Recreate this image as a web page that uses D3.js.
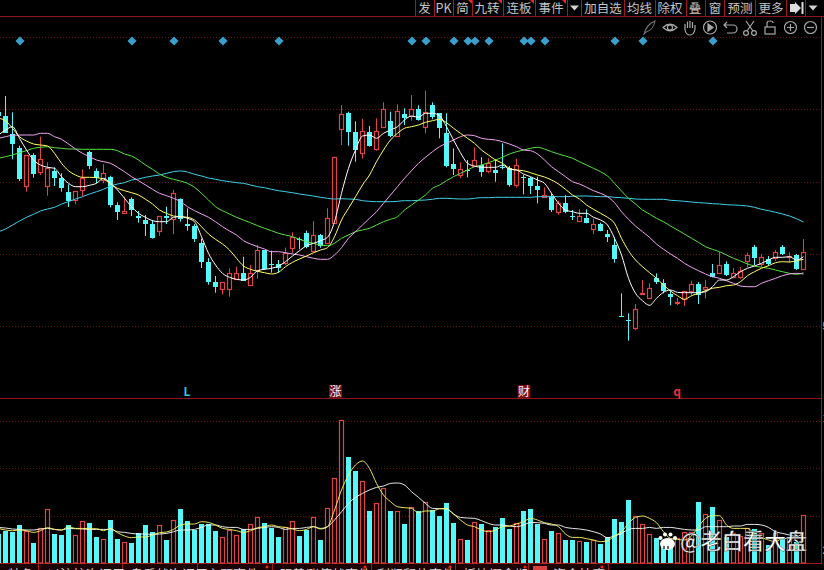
<!DOCTYPE html>
<html><head><meta charset="utf-8">
<script src="https://d3js.org/d3.v7.min.js"></script>
<style>html,body{margin:0;padding:0;background:#000;overflow:hidden}svg{display:block}</style>
</head><body><svg id="c" width="824" height="570"></svg>
<script>
// Candles run from index -1 to 114
const opens=[288,284,265.7,251.7,214.3,245.3,228.3,214.3,229,222.3,208,200,209.7,248,228.7,220,222.7,195.3,187,201,184.3,180,176,169.3,184.3,181.3,201,176,174.3,157.3,138,118,111.3,110.7,120.7,126.7,115.3,130,149.7,136,136,136.7,151.7,161.3,167.3,149.3,165,156.7,177.3,270.7,287.3,268,247.3,268,250.7,272.7,279,264,286,284,291,273.3,294.7,286.7,266.7,235.7,225.3,230,234,235.3,229.3,230,232.7,231.7,215,223.3,222,213.7,203.3,204,188,196.7,184,179,182,170.7,176,165.7,154.7,84,80,72,106,102.3,122,116.7,106,97.3,101,109.3,116,110.7,126.7,127.3,135.7,122.7,123.3,139.3,153.3,136,140.7,142,152.7,142.7,144.7,131.3];
const closes=[284,267.3,256,220.7,245,226,240.7,232.3,222.3,212,199,209,222.3,234,221.7,227.3,195,188,189,190,182.3,176,162.3,184,182.3,206.7,181,174,161,138,118,112.7,118,126.7,126.7,119.3,126.7,149.7,130.7,134.7,131.7,147.3,163.3,160,153.3,164.7,154,181.7,242.7,286.3,268.3,250,269.3,254.3,269.3,290.7,264,289.3,282,290.7,280,288.3,282.7,272.3,234,231,230.7,229.3,239.7,228,236.7,226.7,232,215,235.3,222.7,214,210.3,204.7,190,197.3,188,183.3,183.7,177.3,175.7,169.3,163,141.3,83.3,79.3,90.7,107.3,111.7,118,108.7,103.3,98,108.7,116,104.7,112.7,123.3,135.3,125.3,127.3,129,145,142,142.7,136,148.3,146,144,130.7,148.3];
const highs=[295,304,287.7,254.3,245,246.7,263.3,237.7,232.7,226.7,215.7,209,230.7,249.3,231.7,235.7,224.3,197.7,203.3,202.7,189,185,180,184,193.3,210,201.7,191.7,176,161.3,142,124,118,131.7,133.3,143.3,135,155,149.7,149.3,140,152.3,167.7,162.7,169.3,179,166,191.7,242.7,295,288.3,278.7,281.3,274,281.7,297.7,288.3,295.7,291.7,305,294.7,309.3,297.7,286.7,286.7,251.7,237.7,240,252.7,242.7,241.7,240.7,256.7,234,241.3,225,223.3,223.3,212.7,206.7,199.3,205,190,190.7,190.7,181.3,177.3,170,162.7,106.7,86.7,96,120,116.7,126.7,120.7,110,102,108.7,119.3,118,120,136,148,138.7,132,132.7,147.3,155,145.7,144,150,155,147.7,146,161];
const lows=[265,267,240.7,219,208.3,222.3,225,204.3,214,208.3,193,196,203.3,231,216.7,216.7,192.7,180,186,184,177.3,164,161.3,164,176,166,178.3,169.3,158,132,115.3,107.3,105.3,103.3,120,119.3,115.3,121.3,130,127.3,127,135,146.7,150.7,151.7,147.7,152.3,156,177.3,255,254.3,238.3,241.3,253.3,249.3,272.7,262.7,263.3,275,279.3,279.3,266.7,280.7,261.7,232.7,225,221.7,222.7,233.3,223.3,226.7,218.3,230.7,213.3,212.3,205.7,206,196.7,202.7,188,185.3,186.7,180,178.3,176.7,166,168.7,158,137.3,83.3,59.3,70,105,101.7,116,106.7,94.7,95,94,105,96,101.7,122.7,126,124,121.7,121.3,132.7,135,133.3,134,139.3,145,137.3,130,130];

const ma5=[265,270,273.3,261.7,250,240,235,232.7,231.7,223.3,216.7,213.3,213.3,214.7,216.7,221.7,216.7,210,201.7,193.3,186.7,182.7,179.3,178.3,178.3,182.7,183.3,181.7,178.3,163.3,146.7,135,126.7,122.7,120.7,120,122.7,129.3,130.7,131.7,134,138.3,144,149.3,154.3,156.7,159.3,162.7,178.3,206.7,231.7,250,264,265,261.7,266.7,270,273.3,280,284,282.7,286.7,286.7,284.3,273.3,260,247.3,236.7,234,232.7,232.7,232.7,235,230.7,230,226,223.3,220,216.7,206.7,196.7,190,188.3,186.7,186.7,182.7,180,175,161.7,145,121.7,106.7,99.3,94.7,101.7,107.7,110,107.7,107.3,107.3,107.3,108.3,113.3,120,120,123.3,128.3,131.7,134,136.7,140,142.7,142.7,143.3,140,143.3];
const ma10=[281.7,279.3,271.7,263.3,259,256,255,254,246.7,236.7,229.3,225,222.7,222.7,222.3,221,216,211.7,209.3,207.3,205,200.7,196,190,186.7,184,183.3,182.7,180,173.3,166,160.7,156,150,141.7,134,130.7,128.7,127.3,126,127.7,133.3,137.7,141,144,147.3,150,152.3,163.3,180,191.7,203.3,215,225,238.3,250,260,266.7,271.7,273.3,275,277.7,279.3,280.7,277.3,271.7,266.7,261.7,256.7,250,245,240,236.7,231.7,230,229.3,227.3,225,223,220,216,210.7,205,201,195,190.7,186.7,182.7,176.7,161.7,149.3,140,133.3,127.3,121.7,115,109,104.3,100.7,104.3,106.7,109.3,111.7,112.7,114.3,115,118.3,124.3,128.3,131.7,134.3,137.3,138.3,138,139.3,140.7];
const ma20=[261.7,263.3,264.7,265,265,265,266.7,266.7,263.3,260.7,256,251,246.7,243.3,240,238.3,236.7,232.7,228.3,223.3,219.3,215,210.7,206.7,204.3,201.7,198.3,193.3,189.3,186,182.7,178.3,173.3,169,165,159.3,156,153.3,151,148.3,148.3,147.3,146,145,143.3,141.7,140.7,140.7,145,152.3,161.7,168.3,175,181.7,188.3,196.7,205,213.3,221.7,229.3,236.7,242.7,248.3,253.3,256.7,260,263.3,265,264.3,261.7,260.7,260,258.3,256,253.3,250,249.3,246,240,233.3,228.3,223.3,218.3,216,212.7,209.3,206.7,203.3,197.3,188.3,180.7,174,168.3,162.7,156,150.7,146,141.7,136.7,132.7,129.3,126,123.3,121.7,119.3,116.7,114,113.3,113.3,116.7,119.3,121.7,124.3,126,126.7,126];
const ma30=[241.7,243.3,245,247.3,249.3,251.7,252.7,253.3,252.3,251.7,251,251,250.7,250.7,250.7,250.7,250.7,249.3,246,244,240,235,230.7,226,222.7,220.7,219,216.7,212.7,206.7,200,193.3,189.3,186,182.7,180,177.3,174.3,171.7,169.3,166.7,165,163.3,160.7,158.3,156.7,155,154.3,156.7,161.7,165,168.3,170,171.7,175,178.3,180.7,183.3,190,195,200,205,211.7,215,219.3,223.3,226.7,230,233.3,235,237.3,240,242.7,246,248.3,250,251.7,252.7,251,248.3,246,244,241.7,238.3,235,231.7,228.3,224,216.7,209,201.7,196,190,186,181.7,178.3,174,170,166,161.7,157.7,153.3,150.7,148.3,145,141.7,139,136,134,132.7,131.7,130,128.3,126.7,125.7,127.3];
const ma60=[168.3,171,175,179,182.7,185.7,189,191,192.7,196,198.3,201,203.3,206,208.3,210.7,214,216,217.3,220,221,222.7,224,225,226.7,228.3,229,228,225.7,224,222,220.7,219.3,218.3,217.3,216.7,215,213.3,212.3,210.7,209.3,208.3,207.3,206,205,204,202.7,201.7,201,201.3,201,200.7,199.3,198.7,198.3,198.3,198.3,198.7,199.3,199.3,199.7,200,200.7,201.7,201.7,201.3,201,201,201.7,202.3,202.3,202.7,202.7,202.7,202.7,202.7,202.7,203.3,203.3,203.3,203.3,203.3,203.7,204,204,203.7,203.3,203.3,202.7,202.3,201.7,201,200.7,200.7,200.7,200.7,199.7,199.3,198.7,198,197.3,197,196.3,196,195.3,195,194.7,194,192.7,190.7,189.3,187.7,186,184,181.3,178];

const volumes=[28.7,31.7,31,37.7,31.7,20,34.3,53.3,28.7,27.7,37.3,27.7,41.3,39.3,25.7,23.3,42.7,23.7,20.3,20,29.3,37.7,30.7,37.3,22.7,42.3,53.3,41.3,32.7,38.7,38.7,31.7,25.7,32.7,27.7,33.7,38.3,45.3,39.3,34.3,25.7,35.3,41.3,26.7,32.7,45.3,22.7,54.3,84.3,142.3,105.7,91.7,81.7,51.7,59.3,74.3,51.7,51.7,38.7,55.3,51.3,60.3,52.7,46.7,59.3,39.7,23.3,22.7,40.3,38.7,32.7,36,44.7,33.7,39.3,51.3,53.7,38.7,23.3,31.7,29.3,22.7,22.7,21.3,20.7,22.7,18.7,25.3,43.7,40.7,62.7,46.7,38.3,28.3,24.3,17.7,19.3,24.3,31,31,60.7,48.7,55.7,42.7,26,30,26.7,34.3,33.3,30,17.7,29.3,26,24.3,21,47.3];
const volMa10=[35.3,34.7,33.7,33.3,32.7,32.7,33.7,34.3,33.3,32.7,34.3,34,33.7,33.3,33.3,33.3,33.3,31,30.3,29.3,28.7,28.7,28.3,28.7,29.3,31,32.7,32.7,33.3,35.3,37.7,37.7,36,35.3,35.3,33.3,33.3,34.3,35.3,36,35.3,33.3,34.3,34.3,35.3,36,34.3,36,42.7,51,59.3,65.3,69.3,72.7,75.3,76.7,79.3,79.7,77.7,71,65.3,59.3,54.3,54,53.7,48.7,45.3,44.7,44.3,42,39.3,37.7,37.7,36.7,36,37.7,40.3,40,39.3,37.7,37.7,35.3,34.3,33.7,32.7,31,28.7,25,26.7,29.3,33.3,34.3,34.3,35.3,34.3,35.3,35.3,34.3,33.3,32.7,32.7,36,36,36,36,36.7,36.7,38.3,38.3,37.7,35.3,31,29.3,27.7,26,30];
const volMa5=[34.3,32.7,32,32.7,32,30.3,32,35,33.3,32.7,36,34.3,34.3,34,34,32,34.3,30,26.7,25,25.7,25.7,27.7,30,30.7,33.3,37.7,38.7,38.7,41,40.3,37.7,34.3,33.3,32,30.3,32,35,36,37.7,36,35.3,33.7,32,33.3,36,33.7,36,52.7,72.7,87.7,97.7,101.7,94.3,79.3,67.7,61,56,55,54.3,50,51.7,51.7,54,54.3,48.7,42.7,37.7,36,32.7,31,32.7,36,36.7,38.7,41,44.3,42.7,40,38.7,36,28.7,25.3,25.3,24,22.7,21,22,26.7,31,39.3,45.3,46.7,44.3,40,31,24.3,23.3,22.7,26.7,36,44.3,47,47,37.7,34.3,34.3,34.3,29.3,25.3,22.7,21,24.3,24.3,24.3,24.3];

const markerBars=[2,18,24,31,39,58,60,64,66,67,69,74,75,77,87,91,101];
const priceGrid=[363,290.7,218.5,146,74];
const volGrid=[47,95,142.2];
const sideTicks=[["5",326],["1",418],["2",550]];
const eventTags=[["L",187,"#2fc6d8",0],["涨",335.5,"#f4f4f4",1],["财",524,"#f4f4f4",1],["q",677,"#ea2f45",0]];
const toolLabels=[["发",424.5],["PK",443.5],["简",462.5],["九转",487],["连板",519],["事件",551],["加自选",603],["均线",639.5],["除权",670],["叠",695],["窗",715],["预测",740],["更多",771]];
const toolSeps=[415.5,434.5,453.5,472.5,503.5,535.5,567.5,581.5,624.5,655.5,686.5,705.5,724.5,755.5,786.5,805.5];
const toolFlags=[472,502,534,566];
const tabLabels=[["特色",8],["以沪校次调用",47],["盘后战次调用",130],["主题事件",207],["强势涨停战事件",280],["利润翻倍事件",377],["板块概念期",463],["资金抄底",553]];
const tabSeps=[38.5,122.5,197.5,272.5,371.5,455.5,528.5,608.5];
const tabDots=[267,365,450,525,602];

const CYAN="#55f8f8",RED="#de4345",GRID="#681414",LINE="#8e1518";
const CJK='"Noto Sans CJK SC","Noto Sans",sans-serif';
const svg=d3.select("#c");
svg.append("rect").attr("width",824).attr("height",570).attr("fill","#000");

const idx=d3.range(-1,115);
const x=d3.scaleLinear().domain([-1,114]).range([-1.5,803.5]);
const y=d3.scaleLinear().domain([0,400]).range([400,0]);
const yV=d3.scaleLinear().domain([0,142.2]).range([562.7,420.5]);
const snap=v=>Math.round(v)+.5;

// frame lines
const frame=svg.append("g").attr("stroke",LINE).attr("fill","none");
frame.append("line").attr("x1",0).attr("x2",824).attr("y1",16.5).attr("y2",16.5);
frame.append("line").attr("x1",0).attr("x2",821).attr("y1",398.5).attr("y2",398.5);
frame.append("line").attr("x1",0).attr("x2",821).attr("y1",563.5).attr("y2",563.5).attr("stroke","#a0181a");
frame.append("line").attr("x1",821.5).attr("x2",821.5).attr("y1",16).attr("y2",564).attr("stroke","#a0181a");

// grids
const grid=svg.append("g").attr("stroke",GRID).attr("stroke-dasharray","1 2");
grid.selectAll(".p").data(priceGrid).join("line").attr("x1",0).attr("x2",821)
  .attr("y1",d=>snap(y(d))).attr("y2",d=>snap(y(d)));
grid.selectAll(".v").data(volGrid).join("line").attr("x1",0).attr("x2",821)
  .attr("y1",d=>snap(yV(d))).attr("y2",d=>snap(yV(d)));

// candles
const up=i=>closes[i]>=opens[i];
svg.append("g").selectAll("g").data(idx).join("g")
  .each(function(k,i){
    const g=d3.select(this), cx=x(k), col=up(i)?RED:CYAN;
    g.append("line").attr("x1",cx).attr("x2",cx).attr("y1",y(highs[i])).attr("y2",y(lows[i])).attr("stroke",col);
    const t=Math.round(y(Math.max(opens[i],closes[i]))), b=Math.round(y(Math.min(opens[i],closes[i])));
    if(up(i)){
      g.append("rect").attr("x",cx-2).attr("width",4).attr("y",t+.5).attr("height",Math.max(b-t,1))
        .attr("fill","#000").attr("stroke",RED).attr("stroke-width",1.2);
    }else if(b-t<=1){
      g.append("line").attr("x1",cx-2.5).attr("x2",cx+2.5).attr("y1",t+.5).attr("y2",t+.5).attr("stroke",CYAN);
    }else{
      g.append("rect").attr("x",cx-2.5).attr("width",5).attr("y",t).attr("height",b-t).attr("fill",CYAN);
    }
  });

// price moving averages
const priceLine=d3.line().x((d,i)=>x(idx[i])).y(d=>y(d)).curve(d3.curveMonotoneX);
[[ma60,"#40d0e8"],[ma30,"#58e040"],[ma20,"#f0a4f2"],[ma10,"#ffff66"],[ma5,"#ffffff"]].forEach(([a,c])=>{
  svg.append("path").attr("d",priceLine(a)).attr("fill","none").attr("stroke",c).attr("stroke-width",1);
});

// volume
svg.append("g").selectAll("rect").data(idx).join("rect")
  .each(function(k,i){
    const r=d3.select(this), cx=x(k), top=Math.round(yV(volumes[i]));
    if(up(i)) r.attr("x",cx-2).attr("width",4).attr("y",top+.5).attr("height",563-top-.5).attr("fill","#000").attr("stroke",RED).attr("stroke-width",1.2);
    else r.attr("x",cx-2.5).attr("width",5).attr("y",top).attr("height",563-top).attr("fill",CYAN);
  });
const volLine=d3.line().x((d,i)=>x(idx[i])).y(d=>yV(d)).curve(d3.curveMonotoneX);
svg.append("path").attr("d",volLine(volMa10)).attr("fill","none").attr("stroke","#fff").attr("stroke-width",.9);
svg.append("path").attr("d",volLine(volMa5)).attr("fill","none").attr("stroke","#fdfd62").attr("stroke-width",.9);

// markers
const markY=41;
svg.append("g").selectAll("path").data(markerBars).join("path")
  .attr("d",d3.symbol(d3.symbolSquare,42)())
  .attr("transform",k=>`translate(${x(k)+.5},${markY}) rotate(45)`)
  .attr("fill","#3b9fcb");

// event tags
eventTags.forEach(([t,px,c,box])=>{
  if(box) svg.append("rect").attr("x",px-6.5).attr("y",385).attr("width",13).attr("height",13).attr("fill","#7a0d10");
  svg.append("text").attr("x",px).attr("y",396).attr("text-anchor","middle").attr("fill",c)
    .attr("font-family",CJK).attr("font-size",12).attr("font-weight",box?400:700).text(t);
});

// axis glyphs cut by the window edge
svg.append("g").selectAll("text").data(sideTicks).join("text").attr("x",822.5).attr("y",d=>d[1]+4)
  .attr("fill","#bbb").attr("font-family","Liberation Sans").attr("font-size",11).text(d=>d[0]);

// top toolbar
const bar=svg.append("g");
bar.selectAll("line").data(toolSeps).join("line").attr("x1",d=>d).attr("x2",d=>d).attr("y1",0).attr("y2",16).attr("stroke","#a31a1c");
bar.selectAll("text").data(toolLabels).join("text").attr("x",d=>d[1]).attr("y",12.5).attr("text-anchor","middle")
  .attr("fill","#c4c4c4").attr("font-family",CJK).attr("font-size",12.5).text(d=>d[0]);
bar.selectAll("path.f").data(toolFlags).join("path").attr("d",d=>`M${d-4},0H${d}V4Z`).attr("fill","#e02a2a");
bar.append("path").attr("d","M570,5.5h9l-4.5,5Z").attr("fill","#d0d0d0");
bar.append("path").attr("d","M808.5,5.5h9l-4.5,5Z").attr("fill","#d0d0d0");
bar.append("path").attr("d","M790,4h5V2l6,6l-6,6v-2h-5Z").attr("fill","#dcdcdc");
bar.append("rect").attr("x",801.5).attr("y",2).attr("width",2).attr("height",12).attr("fill","#dcdcdc");

// chart tool icons
const ic=svg.append("g").attr("fill","none").attr("stroke","#a8a8a8").attr("stroke-width",1.2);
ic.append("path").attr("d","M644,34 C645,28 650,23 655,21 C654,27 650,31 646,32Z").attr("stroke","#6f6f6f");
ic.append("path").attr("d","M663,27.5 Q670,21 677,27.5 Q670,34 663,27.5Z");
ic.append("circle").attr("cx",670).attr("cy",27.5).attr("r",2.5);
ic.append("path").attr("d","M685,30 V24 M687.5,28 V21.5 M690,28 V21 M692.5,28 V22 M695,29 V25 M685,30 Q686,35 690,35 Q694,35 695,29");
ic.append("circle").attr("cx",710).attr("cy",27.5).attr("r",6.5);
ic.append("path").attr("d","M708,24 L713,27.5 L708,31Z").attr("fill","#a8a8a8");
ic.append("path").attr("d","M724,25 h9 a4,4 0 0 1 0,8 h-6 M727,22 l-3,3 l3,3");
ic.append("path").attr("d","M746,21 L753,31 M754,21 L747,31");
ic.append("circle").attr("cx",746).attr("cy",33).attr("r",2.4);
ic.append("circle").attr("cx",754).attr("cy",33).attr("r",2.4);
ic.append("rect").attr("x",765).attr("y",27).attr("width",10).attr("height",7);
ic.append("path").attr("d","M767,27 V23 Q767,21 770,21 Q773,21 773,23");
ic.append("circle").attr("cx",790.5).attr("cy",27.5).attr("r",6);
ic.append("path").attr("d","M787,27.5 h7 M790.5,24 v7");
ic.append("circle").attr("cx",810.5).attr("cy",27.5).attr("r",6);
ic.append("path").attr("d","M807,27.5 h7");

// bottom tabs, cut off by the window edge
const tabs=svg.append("g");
tabs.append("rect").attr("x",0).attr("y",564).attr("width",610).attr("height",6).attr("fill","#1a0002");
tabs.selectAll("line").data(tabSeps).join("line").attr("x1",d=>d).attr("x2",d=>d).attr("y1",564).attr("y2",570).attr("stroke","#a0181a");
tabs.selectAll("text").data(tabLabels).join("text").attr("x",d=>d[1]).attr("y",579).attr("fill","#d6d6d6")
  .attr("font-family",CJK).attr("font-size",13).text(d=>d[0]);
tabs.selectAll("circle").data(tabDots).join("circle").attr("cx",d=>d).attr("cy",567).attr("r",1.6).attr("fill","#ee2222");
tabs.append("rect").attr("x",533).attr("y",566).attr("width",14).attr("height",4).attr("fill","#d64040");

// watermark
const wm=svg.append("g");
wm.append("text").attr("x",680).attr("y",549).attr("fill","#fff").attr("stroke","#222").attr("stroke-width",.4)
  .attr("font-family",CJK).attr("font-size",21.5).attr("font-weight",500).attr("textLength",127).text("@老白看大盘");
wm.append("ellipse").attr("cx",667.5).attr("cy",544).attr("rx",7.5).attr("ry",6).attr("fill","#fff");
[[660.5,538],[665,534.5],[670.5,534.5],[675,538]].forEach(([a,b])=>wm.append("circle").attr("cx",a).attr("cy",b).attr("r",2).attr("fill","#fff"));
wm.append("path").attr("d","M664,546 v3 M668,546 v3").attr("stroke","#333").attr("stroke-width",1.5);
</script></body></html>
